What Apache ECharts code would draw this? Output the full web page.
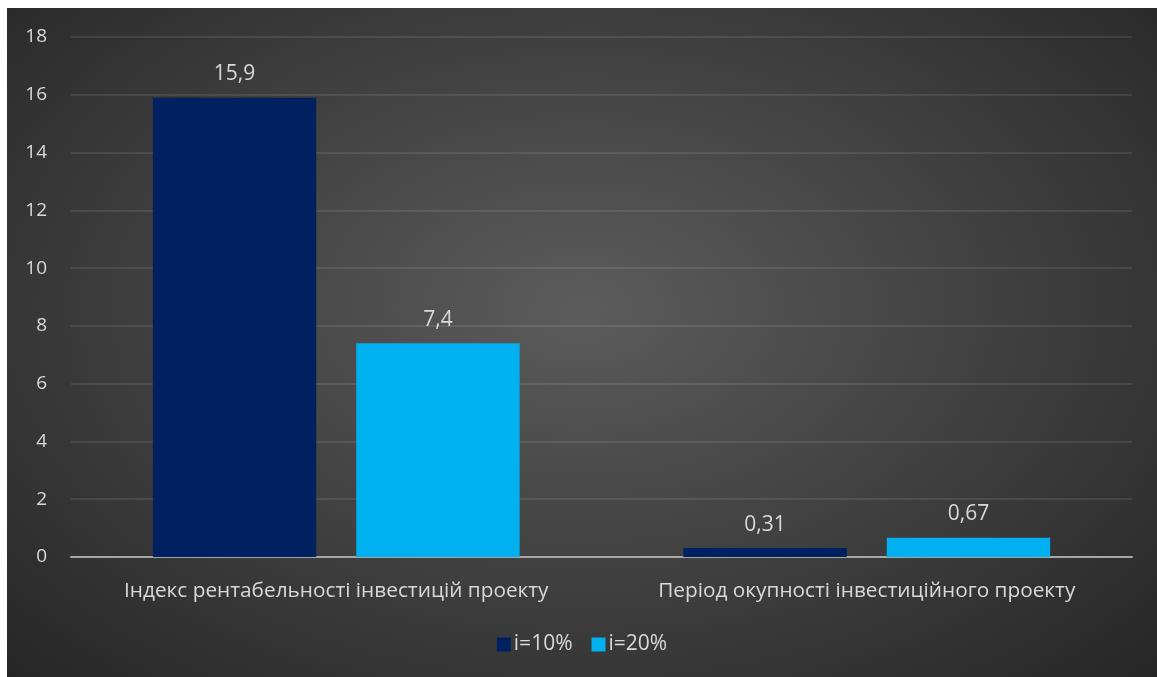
<!DOCTYPE html>
<html>
<head>
<meta charset="utf-8">
<script src="https://cdn.jsdelivr.net/npm/echarts@6/dist/echarts.min.js"></script>
<style>
  html, body { margin: 0; padding: 0; background: #ffffff; }
  #frame {
    position: absolute; left: 7px; top: 8px; width: 1150px; height: 669px;
    background: radial-gradient(ellipse farthest-corner at 50% 45%, #5c5c5c 0%, #3e3e3e 55%, #262626 100%);
  }
  #chart { width: 1150px; height: 669px; }
</style>
</head>
<body>
<div id="frame"><div id="chart"></div></div>
<script>
// Investment project indicators at two discount rates
const categories = ['Індекс рентабельності інвестицій проекту', 'Період окупності інвестиційного проекту'];
const seriesNames = ['i=10%', 'i=20%'];
const rate10 = [15.9, 0.31];
const rate20 = [7.4, 0.67];
const yTicks = { min: 0, max: 18, interval: 2 };

const font = '"Open Sans", "Noto Sans", sans-serif';
const textColor = '#d9d9d9';
const fmt = p => String(p.value).replace('.', ',');

const chart = echarts.init(document.getElementById('chart'), null, { renderer: 'canvas' });
chart.setOption({
  backgroundColor: 'transparent',
  animation: false,
  grid: { left: 64, right: 25, top: 29, bottom: 120, containLabel: false },
  legend: {
    data: seriesNames,
    bottom: 17,
    left: 'center',
    itemWidth: 14, itemHeight: 14, itemGap: 19,
    icon: 'rect',
    textStyle: { color: textColor, fontSize: 21, fontFamily: font, padding: [0, 0, 0, -2] }
  },
  xAxis: {
    type: 'category',
    data: categories,
    axisTick: { show: false },
    axisLine: { lineStyle: { color: '#a6a6a6', width: 2 } },
    axisLabel: { color: textColor, fontSize: 20.8, fontFamily: font, margin: 24, interval: 0, hideOverlap: false }
  },
  yAxis: {
    type: 'value',
    min: yTicks.min, max: yTicks.max, interval: yTicks.interval,
    axisLine: { show: false },
    axisTick: { show: false },
    axisLabel: { color: textColor, fontSize: 19, fontFamily: font, margin: 24 },
    splitLine: { lineStyle: { color: 'rgba(255,255,255,0.12)', width: 1.5 } }
  },
  series: [
    {
      name: seriesNames[0], type: 'bar', data: rate10,
      barWidth: '30.8%', barGap: '24.5%',
      itemStyle: { color: '#002060' },
      label: { show: true, position: 'top', distance: 13, color: textColor, fontSize: 21, fontFamily: font, formatter: fmt }
    },
    {
      name: seriesNames[1], type: 'bar', data: rate20,
      barWidth: '30.8%',
      itemStyle: { color: '#00b0f0' },
      label: { show: true, position: 'top', distance: 13, color: textColor, fontSize: 21, fontFamily: font, formatter: fmt }
    }
  ]
});
</script>
</body>
</html>
